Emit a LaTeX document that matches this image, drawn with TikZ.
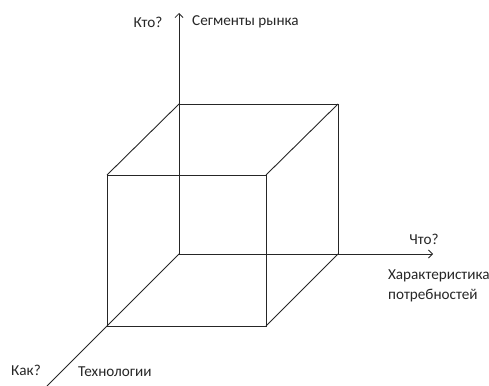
\documentclass[tikz,border=0pt]{standalone}
\usepackage{fontspec}
\setmainfont{Carlito}
\usetikzlibrary{arrows.meta}
\begin{document}
\begin{tikzpicture}[x=1pt,y=-1pt,
  edge/.style={draw=black!85,line width=0.9pt},
  axis/.style={edge,-{Straight Barb[length=4pt,width=8pt,line width=0.8pt]}},
  lbl/.style={font=\fontsize{15.2}{18}\selectfont,inner sep=0pt,text=black!85}]
\useasboundingbox (0,0) rectangle (489,385);
\clip (0,0) rectangle (489,385);
% origin and axis ends
\coordinate (O) at (179,254);
\coordinate (Yend) at (179,13);
\coordinate (Xend) at (433,254);
\coordinate (Zend) at (47,386);
% front face
\coordinate (F1) at (107,175);
\coordinate (F2) at (266,175);
\coordinate (F3) at (266,326);
\coordinate (F4) at (107,326);
% back face
\coordinate (B1) at (179,104);
\coordinate (B2) at (338,104);
\coordinate (B3) at (338,254);
% axes
\draw[axis] (O) -- (Yend);
\draw[axis] (O) -- (Xend);
\draw[edge] (O) -- (Zend);
% cube
\draw[edge] (F1) -- (F2) -- (F3) -- (F4) -- cycle;
\draw[edge] (B1) -- (B2) -- (B3);
\draw[edge] (F1) -- (B1);
\draw[edge] (F2) -- (B2);
\draw[edge] (F3) -- (B3);
% labels
\node[lbl] (kto) at (148,22) {Кто?};
\node[lbl,anchor=west] (seg) at (192,22) {Сегменты рынка};
\node[lbl] (chto) at (424,239) {Что?};
\node[lbl,anchor=west] (har) at (388,276) {Характеристика};
\node[lbl,anchor=west] (potr) at (388,296) {потребностей};
\node[lbl] (kak) at (26,370) {Как?};
\node[lbl,anchor=west] (tech) at (78,372) {Технологии};
\end{tikzpicture}
\end{document}
